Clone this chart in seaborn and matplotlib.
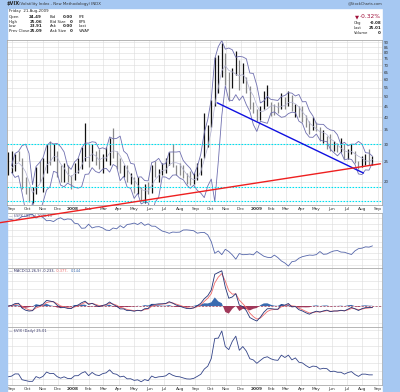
import numpy as np
import pandas as pd
import matplotlib
matplotlib.use("Agg")
import matplotlib.pyplot as plt
from matplotlib.patches import Rectangle
from matplotlib.ticker import NullLocator
import seaborn as sns

sns.set_style("whitegrid")
plt.rcParams['font.family'] = ['DejaVu Sans']

# --- data: weekly (Friday) values ---
week_end = pd.date_range('2007-08-24', '2009-08-21', freq='W-FRI')

vix_close = [22.6,
             23.4, 26.2, 26.1, 19.0, 18.0, 17.0, 17.0, 22.9, 21.0, 23.2, 28.5, 26.5, 26.8, 22.9, 20.9, 22.6, 20.6, 20.3,
             23.9, 24.0, 27.2, 29.0, 24.0, 28.0, 25.0, 24.1, 26.5, 27.5, 31.2, 26.6, 25.7, 22.5, 23.4, 20.1, 20.2,
             18.2, 18.9, 16.5, 19.2, 17.8, 23.6, 21.5, 22.6, 22.9, 23.8, 27.0, 24.5, 23.0, 22.6, 21.2, 20.0, 19.8, 20.7,
             23.1, 25.7, 32.1, 35.7, 45.1, 69.9, 70.3, 79.1, 59.9, 56.1, 66.3, 72.7, 55.3, 59.9, 54.3, 44.9, 43.4,
             39.2, 42.8, 46.1, 47.3, 44.8, 43.4, 42.9, 49.3, 46.4, 49.3, 43.5, 45.9, 40.6, 39.7, 36.5, 33.9, 35.8,
             35.3, 32.1, 33.1, 32.6, 28.9, 29.6, 28.2, 28.2, 25.9, 27.9, 29.0, 25.4, 23.1, 25.9, 25.9, 25.0, 25.0]
vix_high = [27.5,
            28, 27, 28, 26, 21, 19, 19, 23.4, 25, 26, 30, 31.1, 30, 28, 24, 24.5, 24, 21.5,
            24.5, 26, 29, 37.6, 30, 30, 28, 28.5, 27, 29, 32, 35.6, 28, 26, 24, 24, 22,
            21, 21, 19, 19.5, 20, 24, 25, 23, 24.5, 26, 27.5, 30, 24, 24.5, 24, 22, 22.5, 22,
            24.5, 26, 42, 37, 48.5, 76.9, 78, 89.5, 80, 65, 68, 81.5, 74, 72, 62, 56, 47,
            44, 45, 53, 57, 47, 46, 47, 52, 50, 53, 51, 46, 45, 45, 41, 38.5, 40,
            38, 36, 35, 32.9, 33.5, 31, 30.5, 32, 30, 28.5, 30, 28, 25, 26.5, 27, 28.5, 26.5]
vix_low = [21.5,
           22, 22.5, 25, 18.6, 17.5, 16.1, 15.9, 17.5, 20, 18, 22, 24, 25, 21, 20, 20, 20, 18.5,
           20.5, 22, 23, 25, 23.5, 25, 24, 23, 22, 25, 24, 26, 23, 22, 21, 20, 19.5,
           17.8, 17.5, 16.3, 16, 17.5, 17.8, 21, 20, 21.5, 22, 24, 23.5, 21.5, 21.5, 20.8, 19.5, 19.3, 19.5,
           20.5, 21.5, 26, 29, 36, 45, 52, 62, 57, 47.5, 55, 63, 54, 58, 52, 44, 42,
           38.5, 39, 44, 45, 40.5, 41, 42, 44, 44, 45, 43, 40, 40, 38, 36, 33.5, 35,
           34.5, 31, 30.5, 28.5, 28, 28, 27.5, 27.5, 25.5, 25.5, 27, 24.5, 23, 23.5, 24, 24, 24]
spx_close = [1479,
             1474, 1454, 1484, 1525, 1527, 1557, 1561, 1500, 1535, 1509, 1453, 1458, 1440, 1481, 1504, 1468, 1484, 1478,
             1411, 1401, 1325, 1330, 1395, 1331, 1349, 1353, 1331, 1294, 1288, 1330, 1316, 1370, 1333, 1390, 1398,
             1414, 1389, 1425, 1375, 1400, 1361, 1360, 1318, 1278, 1262, 1240, 1261, 1257, 1260, 1296, 1298, 1292, 1283,
             1242, 1252, 1255, 1213, 1099, 899, 940, 877, 968, 930, 873, 800, 896, 876, 879, 887, 873,
             932, 890, 850, 832, 826, 869, 827, 770, 735, 683, 757, 768, 816, 843, 857, 870, 866,
             878, 930, 883, 888, 919, 940, 947, 921, 918, 897, 880, 941, 979, 987, 1010, 1005, 1026]

red_trend_dates = pd.to_datetime(['2007-08-08', '2009-09-06'])
red_trend_vals = [12.9, 24.3]
blue_trend_dates = pd.to_datetime(['2008-10-15', '2009-08-03'])
blue_trend_vals = [46.8, 22.0]
cyan_levels = [30, 19, 16.3]

month_ticks = pd.date_range('2007-09-01', '2009-09-01', freq='MS')
month_labels = [d.strftime('%Y') if d.month == 1 else d.strftime('%b') for d in month_ticks]

df = pd.DataFrame({'date': week_end, 'close': vix_close, 'high': vix_high,
                   'low': vix_low, 'spx': spx_close})

# Bollinger bands (20 days ~ 4 weeks) and MACD(12,26,9) on weekly closes
mid = df['close'].rolling(4, min_periods=2).mean()
sd = df['close'].rolling(4, min_periods=2).std(ddof=0)
df['bb_mid'] = mid
df['bb_up'] = mid + 2 * sd
df['bb_lo'] = mid - 2 * sd
fast = df['close'].ewm(span=3.2, adjust=False).mean()
slow = df['close'].ewm(span=6.0, adjust=False).mean()
df['macd'] = fast - slow
df['signal'] = df['macd'].ewm(span=2.6, adjust=False).mean()
df['hist'] = df['macd'] - df['signal']

# --- figure ---
W, H = 400, 392
BLUE = '#a6c8f2'
fig = plt.figure(figsize=(W / 100, H / 100), dpi=100, facecolor='white')
x_start, x_end = pd.Timestamp('2007-08-22'), pd.Timestamp('2009-09-09')


def px_axes(x0, y0, x1, y1):
    return fig.add_axes([x0 / W, 1 - y1 / H, (x1 - x0) / W, (y1 - y0) / H])


def ftext(x, y, s, **kw):
    kw.setdefault('fontsize', 2.8)
    kw.setdefault('va', 'center')
    kw.setdefault('color', '#222222')
    return fig.text(x / W, 1 - y / H, s, **kw)


def style(ax, ylim, ticks, labels, xlabels=False):
    ax.set_xlim(x_start, x_end)
    ax.set_ylim(*ylim)
    ax.set_yticks(ticks)
    ax.set_yticklabels(labels)
    ax.yaxis.set_minor_locator(NullLocator())
    ax.yaxis.tick_right()
    ax.set_xticks(month_ticks)
    if xlabels:
        ax.set_xticklabels(month_labels)
        for t, d in zip(ax.get_xticklabels(), month_ticks):
            if d.month == 1:
                t.set_fontweight('bold')
    ax.tick_params(axis='x', length=0, pad=1.2, labelsize=3.1, labelcolor='#333333',
                   labelbottom=xlabels)
    ax.tick_params(axis='y', length=0, pad=1.5, labelsize=2.9, labelcolor='#333333')
    ax.grid(True, color='#dcdcdc', lw=0.4)
    for s in ax.spines.values():
        s.set_color('#999999')
        s.set_linewidth(0.5)
    ax.set_xlabel('')
    ax.set_ylabel('')


# background strips
fig.patches.append(Rectangle((0, 0), 7 / W, 1, transform=fig.transFigure, color=BLUE, zorder=0))
fig.patches.append(Rectangle((383 / W, 0), 17 / W, 1, transform=fig.transFigure, color=BLUE, zorder=0))
fig.patches.append(Rectangle((0, 1 - 7.5 / H), 1, 7.5 / H, transform=fig.transFigure, color=BLUE, zorder=0))

# header
ftext(7, 3.8, '$VIX', fontweight='bold', fontsize=3.6)
ftext(19, 3.8, '(Volatility Index - New Methodology) INDX', fontsize=2.8, color='#333333')
ftext(382, 3.8, '@StockCharts.com', ha='right', fontsize=2.6, color='#333333')
ftext(9, 11, 'Friday  21-Aug-2009')
rows = [('Open', '24.49', 'Bid', '0.00', 'P/E'),
        ('High', '25.06', 'Bid Size', '0', 'EPS'),
        ('Low', '23.91', 'Ask', '0.00', 'Last'),
        ('Prev Close', '25.09', 'Ask Size', '0', 'VWAP')]
for i, (a, b, c, d, e) in enumerate(rows):
    y = 17 + i * 4.7
    ftext(9, y, a)
    ftext(42, y, b, ha='right', fontweight='bold', fontsize=2.9)
    ftext(50, y, c)
    ftext(73, y, d, ha='right', fontweight='bold', fontsize=2.9)
    ftext(79, y, e)
ftext(355, 16.5, '\u25bc', color='#a0103a', fontsize=3.8)
ftext(381, 16.5, '-0.32%', ha='right', color='#a0103a', fontsize=4.2)
for i, (a, b) in enumerate([('Chg', '-0.08'), ('Last', '25.01'), ('Volume', '0')]):
    ftext(354, 23 + i * 5, a, fontsize=2.7)
    ftext(381, 23 + i * 5, b, ha='right', fontweight='bold', fontsize=2.9)

# main price panel
ax1 = px_axes(7, 40, 382, 205)
ax1.set_yscale('log')
up = df['close'].diff().fillna(0) >= 0
ax1.vlines(df['date'], df['low'], df['high'], colors=np.where(up, '#111111', '#8a8a8a'), lw=0.9)
sns.lineplot(data=df, x='date', y='bb_up', ax=ax1, color='#7070b0', lw=0.6)
sns.lineplot(data=df, x='date', y='bb_lo', ax=ax1, color='#7070b0', lw=0.6)
sns.lineplot(data=df, x='date', y='bb_mid', ax=ax1, color='#b0b0d0', lw=0.5)
for lv in cyan_levels:
    ax1.axhline(lv, color='#00e0f0', lw=0.8, ls=(0, (1.5, 1.2)))
ax1.plot(blue_trend_dates, blue_trend_vals, color='#1010e0', lw=1.0)
ax1.plot(red_trend_dates, red_trend_vals, color='#ee2020', lw=1.0, clip_on=False, zorder=10)
yt = list(range(20, 95, 5))
style(ax1, (15.6, 92), yt, [str(v) for v in yt], xlabels=True)
ax1.set_zorder(5)
ftext(9, 43, '\u25a0 $VIX (Daily) 25.01', fontsize=2.6, color='#333366')
ftext(9, 47.5, '\u2014 BB(20,2.0) 23.79 - 25.39 - 26.99', fontsize=2.6, color='#6060a0')

# SPX panel
ax2 = px_axes(7, 213, 382, 268)
sns.lineplot(data=df, x='date', y='spx', ax=ax2, color='#5566aa', lw=0.6)
yt = list(range(700, 1600, 100))
style(ax2, (650, 1585), yt, [str(v) for v in yt])
ftext(9, 216, '\u2014 $SPX (Daily) 1026.13', fontsize=2.6, color='#555588')

# MACD panel
ax3 = px_axes(7, 268, 382, 327)
ax3.fill_between(df['date'], 0, df['hist'], where=df['hist'] >= 0, color='#3a6bb0', lw=0, interpolate=True)
ax3.fill_between(df['date'], 0, df['hist'], where=df['hist'] < 0, color='#a0385a', lw=0, interpolate=True)
ax3.axhline(0, color='#a0385a', lw=0.5, ls=(0, (3, 2)))
sns.lineplot(data=df, x='date', y='signal', ax=ax3, color='#ee6a6a', lw=0.6)
sns.lineplot(data=df, x='date', y='macd', ax=ax3, color='#223377', lw=0.6)
yt = [-5, -2.5, 0, 2.5, 5, 7.5, 10]
style(ax3, (-6.3, 11.4), yt, ['%.1f' % v for v in yt])
ftext(9, 271.5, '\u2014 MACD(12,26,9) -0.233,', fontsize=2.6, color='#333366')
ftext(56, 271.5, '-0.377,', fontsize=2.6, color='#ee6a6a')
ftext(71, 271.5, '0.144', fontsize=2.6, color='#3a6bb0')

# VIX line panel
ax4 = px_axes(7, 327, 382, 385)
sns.lineplot(data=df, x='date', y='close', ax=ax4, color='#334488', lw=0.6)
yt = list(range(20, 90, 10))
style(ax4, (12.5, 84), yt, [str(v) for v in yt], xlabels=True)
ftext(9, 331, '\u2014 $VIX (Daily) 25.01', fontsize=2.6, color='#333366')

fig.savefig('out.png', dpi=100, facecolor='white')
